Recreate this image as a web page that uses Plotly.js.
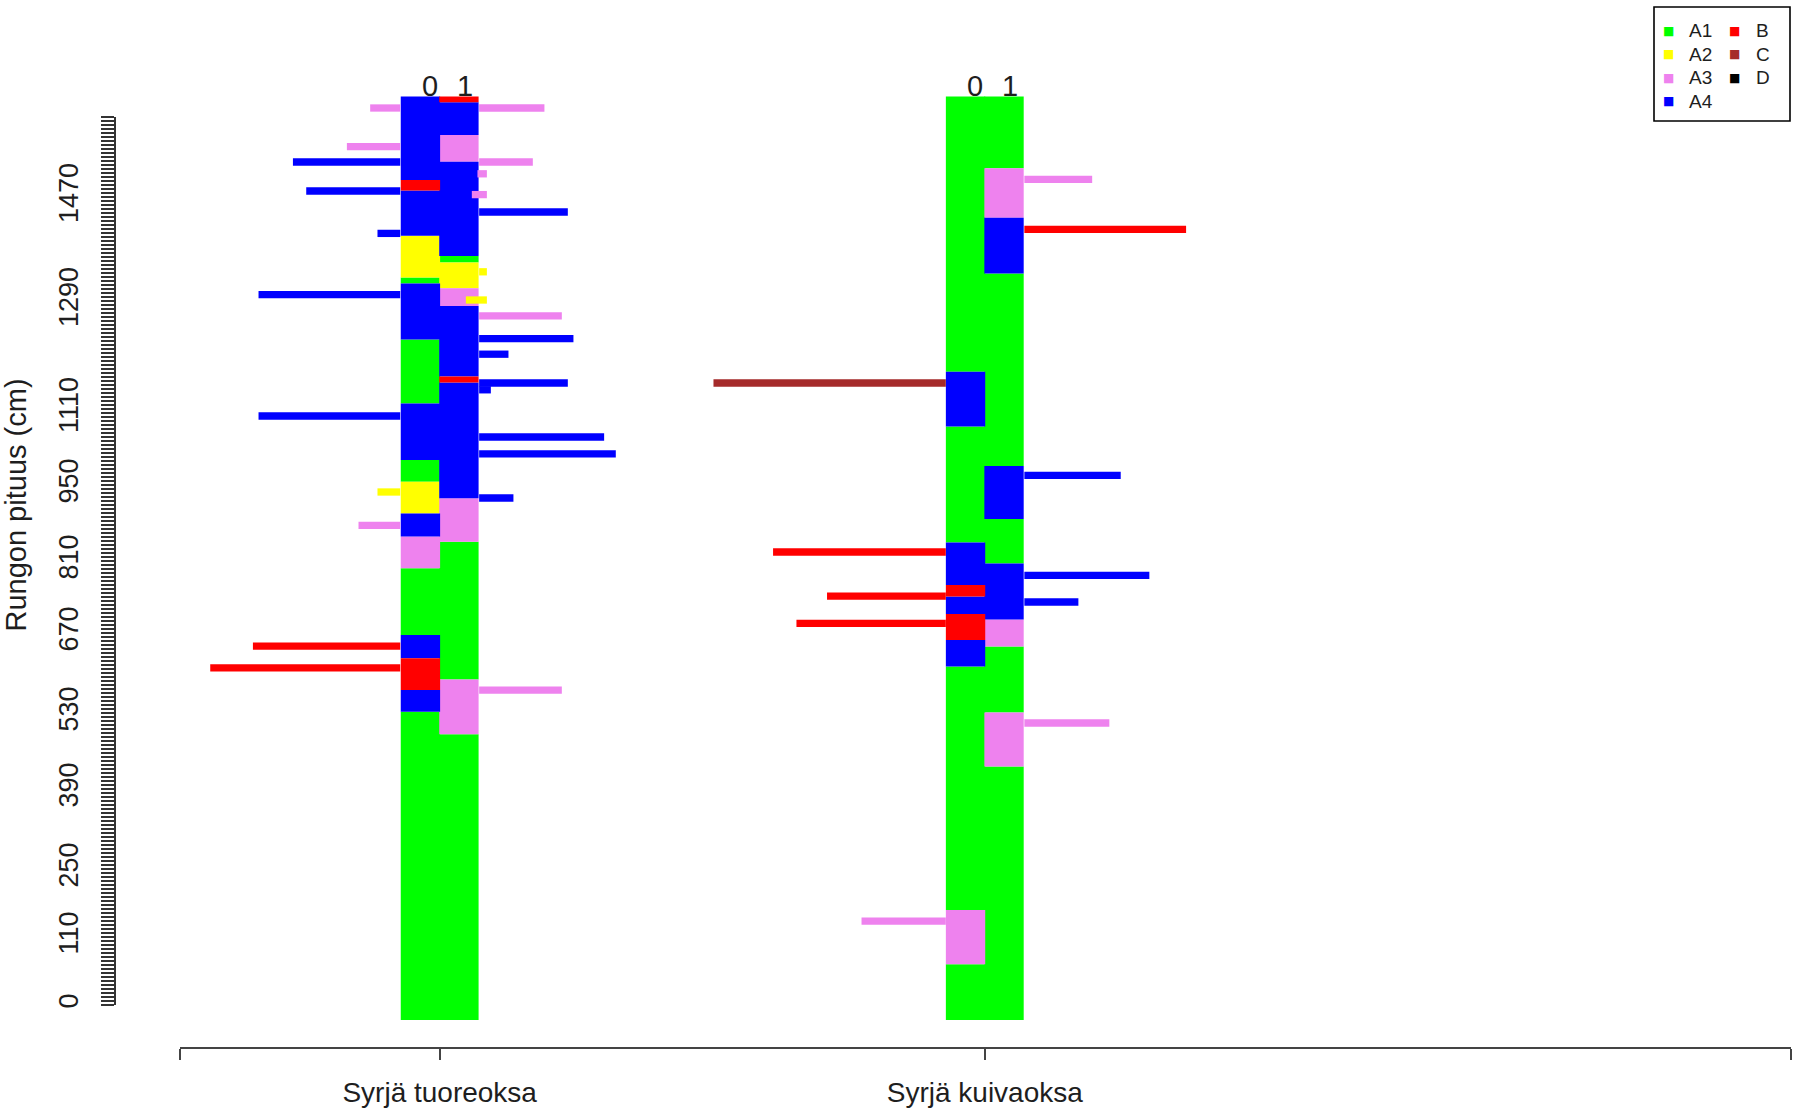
<!DOCTYPE html>
<html>
<head>
<meta charset="utf-8">
<script src="https://cdn.plot.ly/plotly-3.0.1.min.js"></script>
<style>
html,body{margin:0;padding:0;background:#ffffff;}
#chart{width:1800px;height:1112px;}
</style>
</head>
<body>
<div id="chart"></div>
<script>
// ---------------- data ----------------
const classNames  = ['A1', 'A2', 'A3', 'A4', 'B', 'C', 'D'];
const classColors = ['#00FF00', '#FFFF00', '#EE82EE', '#0000FF', '#FF0000', '#A52A2A', '#000000'];

const groupNames = ['Syrjä tuoreoksa', 'Syrjä kuivaoksa'];
const groupPos   = [1, 2];
const subLabels  = ['0', '1'];

// y axis: one tick per row, labelled rows carry the stem height (cm)
const rowCount   = 222;
const tickRows   = [0, 17, 34, 54, 73, 93, 111, 130, 149, 176, 202];
const tickLabels = ['0', '110', '250', '390', '530', '670', '810', '950', '1110', '1290', '1470'];

// blocks: boundaries (rows, bottom -> top) and the class of each segment
const tuore0Bounds = [-3.75, 73.3, 78.75, 86.7, 92.5, 109.2, 117.1, 122.9, 130.8, 136.25, 150.4, 166.4, 180.4, 181.9, 192.3, 203.6, 206.25, 227.1];
const tuore0Class  = ['A1', 'A4', 'B', 'A4', 'A1', 'A3', 'A4', 'A2', 'A1', 'A4', 'A1', 'A4', 'A1', 'A2', 'A4', 'B', 'A4'];
const tuore1Bounds = [-3.75, 67.7, 81.4, 115.8, 126.7, 155.6, 157.1, 174.75, 179.2, 185.6, 187.25, 210.8, 217.5, 225.7, 227.1];
const tuore1Class  = ['A1', 'A3', 'A1', 'A3', 'A4', 'B', 'A4', 'A3', 'A2', 'A1', 'A4', 'A3', 'A4', 'B'];
const kuiva0Bounds = [-3.75, 10.2, 23.75, 84.6, 91.25, 97.75, 102.1, 105, 115.6, 144.6, 158.3, 227.1];
const kuiva0Class  = ['A1', 'A3', 'A1', 'A4', 'B', 'A4', 'B', 'A4', 'A1', 'A4', 'A1'];
const kuiva1Bounds = [-3.75, 59.6, 73.1, 89.6, 96.4, 110.4, 121.5, 134.75, 182.9, 196.8, 209.2, 227.1];
const kuiva1Class  = ['A1', 'A3', 'A1', 'A3', 'A4', 'A1', 'A4', 'A1', 'A4', 'A3', 'A1'];

// horizontal lines: row, start and end on the x scale, class
const tuoreLineRow   = [224.25, 214.6, 210.75, 203.5, 192.9, 177.6, 147.25, 128.25, 119.9, 89.7, 84.3,
                        224.25, 210.75, 207.8, 202.6, 198.25, 183.3, 176.25, 172.3, 166.6, 162.7, 155.5, 153.8, 142, 137.8, 126.75, 78.7];
const tuoreLineFrom  = [0.8725, 0.8298, 0.7308, 0.7552, 0.8859, 0.6677, 0.6677, 0.8859, 0.8511, 0.6574, 0.5791,
                        1.0724, 1.0724, 1.0693, 1.0590, 1.0724, 1.0724, 1.0480, 1.0724, 1.0724, 1.0724, 1.0724, 1.0724, 1.0724, 1.0724, 1.0724, 1.0724];
const tuoreLineTo    = [0.9276, 0.9276, 0.9276, 0.9276, 0.9276, 0.9276, 0.9276, 0.9276, 0.9276, 0.9276, 0.9276,
                        1.1922, 1.1709, 1.0866, 1.0866, 1.2351, 1.0866, 1.0866, 1.2241, 1.2454, 1.1262, 1.2351, 1.0939, 1.3017, 1.3231, 1.1353, 1.2241];
const tuoreLineClass = ['A3', 'A3', 'A4', 'A4', 'A4', 'A4', 'A4', 'A2', 'A3', 'B', 'B',
                        'A3', 'A3', 'A3', 'A3', 'A4', 'A2', 'A2', 'A3', 'A4', 'A4', 'A4', 'A4', 'A4', 'A4', 'A4', 'A3'];

const kuivaLineRow   = [206.4, 193.9, 155.5, 132.4, 113.25, 107.4, 102.2, 100.75, 95.4, 70.5, 20.95];
const kuivaLineFrom  = [2.0726, 2.0726, 1.5023, 2.0726, 1.6116, 2.0726, 1.7106, 2.0726, 1.6545, 2.0726, 1.7739];
const kuivaLineTo    = [2.1970, 2.3693, 1.9285, 2.2494, 1.9285, 2.3019, 1.9285, 2.1717, 1.9285, 2.2285, 1.9285];
const kuivaLineClass = ['A3', 'B', 'C', 'A4', 'B', 'A4', 'B', 'A4', 'B', 'A3', 'A3'];

// ---------------- geometry / style ----------------
const W = 1800, H = 1112;
const ML = 115, MR = 9, MT = 0, MB = 65;
const PW = W - ML - MR, PH = H - MT - MB;
const xAxisStartPx = 180.2;
const xRange = [0.524, 3.479];
const yRange = [-10.5, 251.25];
const colWidth = 0.0706;
const barOverlap = 0.0016;
const lineWidthPx = 7.3;
const FONT = 'Liberation Sans, Arial, Helvetica, sans-serif';
const TXT = '#1e1e1e';

const colorOf = c => classColors[classNames.indexOf(c)];

// ---------------- traces ----------------
const columns = [
  {g: 0, s: 0, bounds: tuore0Bounds, cls: tuore0Class},
  {g: 0, s: 1, bounds: tuore1Bounds, cls: tuore1Class},
  {g: 1, s: 0, bounds: kuiva0Bounds, cls: kuiva0Class},
  {g: 1, s: 1, bounds: kuiva1Bounds, cls: kuiva1Class}
];

const traces = [];
classNames.forEach(cn => {
  const xs = [], base = [], hs = [];
  columns.forEach(col => {
    const xc = groupPos[col.g] + (col.s === 0 ? -colWidth / 2 : colWidth / 2);
    col.cls.forEach((c, i) => {
      if (c === cn) {
        xs.push(xc);
        base.push(col.bounds[i]);
        hs.push(col.bounds[i + 1] - col.bounds[i]);
      }
    });
  });
  if (xs.length) {
    traces.push({
      type: 'bar', orientation: 'v', name: cn, x: xs, y: hs, base: base,
      width: colWidth + barOverlap, marker: {color: colorOf(cn), line: {width: 0}},
      showlegend: false, hoverinfo: 'skip', xaxis: 'x', yaxis: 'y'
    });
  }
});

const lineSets = [
  {row: tuoreLineRow, from: tuoreLineFrom, to: tuoreLineTo, cls: tuoreLineClass},
  {row: kuivaLineRow, from: kuivaLineFrom, to: kuivaLineTo, cls: kuivaLineClass}
];
classNames.forEach(cn => {
  const xs = [], ys = [];
  lineSets.forEach(ls => {
    ls.cls.forEach((c, i) => {
      if (c === cn) {
        xs.push(ls.from[i], ls.to[i], null);
        ys.push(ls.row[i], ls.row[i], null);
      }
    });
  });
  if (xs.length) {
    traces.push({
      type: 'scatter', mode: 'lines', name: cn, x: xs, y: ys,
      line: {color: colorOf(cn), width: lineWidthPx}, connectgaps: false,
      showlegend: false, hoverinfo: 'skip', xaxis: 'x', yaxis: 'y'
    });
  }
});

// helper traces so the row-tick axis and the title axis get their subplots
traces.push({type: 'scatter', mode: 'markers', x: [null], y: [null], xaxis: 'x', yaxis: 'y2',
  showlegend: false, hoverinfo: 'skip'});
traces.push({type: 'scatter', mode: 'markers', x: [null], y: [null], xaxis: 'x', yaxis: 'y3',
  showlegend: false, hoverinfo: 'skip'});

// ---------------- layout ----------------
const yTickVals = [], yTickText = [];
for (let r = 0; r <= rowCount; r++) {
  yTickVals.push(r);
  const k = tickRows.indexOf(r);
  yTickText.push(k >= 0 ? tickLabels[k] : '');
}
const y2Range = [-0.01, rowCount + 0.01];
const ySpan = yRange[1] - yRange[0];
const y2Domain = [(y2Range[0] - yRange[0]) / ySpan, (y2Range[1] - yRange[0]) / ySpan];

const pxX = px => (px - ML) / PW;
const pxY = py => 1 - (py - MT) / PH;

const annotations = [];
groupPos.forEach(gp => {
  [-0.018, 0.047].forEach((off, s) => {
    annotations.push({
      text: subLabels[s], x: gp + off, y: 229.8, xref: 'x', yref: 'y',
      showarrow: false, xanchor: 'center', yanchor: 'middle',
      font: {family: FONT, size: 29, color: TXT}
    });
  });
});

const legMarkX = [1668, 1734], legTextX = [1688, 1755];
const legRow0 = 31, legRowStep = 23.5;
classNames.forEach((cn, i) => {
  const col = i < 4 ? 0 : 1, row = i < 4 ? i : i - 4;
  const py = legRow0 + legRowStep * row;
  annotations.push({
    text: '■', x: pxX(legMarkX[col]), y: pxY(py), xref: 'paper', yref: 'paper',
    showarrow: false, xanchor: 'center', yanchor: 'middle', borderpad: 0,
    font: {family: 'DejaVu Sans', size: 12, color: classColors[i]}
  });
  annotations.push({
    text: cn, x: pxX(legTextX[col]), y: pxY(py), xref: 'paper', yref: 'paper',
    showarrow: false, xanchor: 'left', yanchor: 'middle', borderpad: 0,
    font: {family: FONT, size: 19, color: TXT}
  });
});

const layout = {
  width: W, height: H,
  margin: {l: ML, r: MR, t: MT, b: MB, pad: 0},
  paper_bgcolor: '#ffffff', plot_bgcolor: 'rgba(0,0,0,0)',
  showlegend: false, barmode: 'overlay',
  font: {family: FONT, size: 29, color: TXT},
  xaxis: {
    domain: [pxX(xAxisStartPx), 1], range: xRange, anchor: 'y',
    showline: true, linecolor: '#444', linewidth: 2,
    ticks: 'outside', ticklen: 11, tickwidth: 2, tickcolor: '#444',
    tickmode: 'array',
    tickvals: [xRange[0] + 0.0005, groupPos[0], groupPos[1], xRange[1] - 0.0005],
    ticktext: ['', groupNames[0], groupNames[1], ''],
    tickfont: {family: FONT, size: 28, color: TXT}, ticklabelstandoff: 8,
    showgrid: false, zeroline: false, fixedrange: true
  },
  yaxis: {
    domain: [0, 1], range: yRange, anchor: 'free', position: 0,
    showline: false, ticks: '', showticklabels: false,
    showgrid: false, zeroline: false, fixedrange: true
  },
  yaxis2: {
    domain: y2Domain, range: y2Range, anchor: 'free', position: 0, side: 'left',
    showline: true, linecolor: '#333', linewidth: 2,
    ticks: 'outside', ticklen: 13, tickwidth: 1.2, tickcolor: '#333',
    tickmode: 'array', tickvals: yTickVals, ticktext: yTickText,
    tickangle: -90, tickfont: {family: FONT, size: 27, color: TXT}, ticklabelstandoff: 12,
    showgrid: false, zeroline: false, fixedrange: true
  },
  yaxis3: {
    domain: [pxY(1000), pxY(10)], range: [0, 1], anchor: 'free', position: 0, side: 'left',
    showline: false, ticks: '', showticklabels: false,
    showgrid: false, zeroline: false, fixedrange: true,
    title: {text: 'Rungon pituus (cm)', font: {family: FONT, size: 29, color: TXT}, standoff: 79}
  },
  annotations: annotations,
  shapes: [{
    type: 'rect', xref: 'paper', yref: 'paper',
    x0: pxX(1654), x1: pxX(1790), y0: pxY(7), y1: pxY(121),
    line: {color: '#000000', width: 1.6}, fillcolor: 'rgba(0,0,0,0)'
  }]
};

Plotly.newPlot('chart', traces, layout, {displayModeBar: false, staticPlot: true});
</script>
</body>
</html>
